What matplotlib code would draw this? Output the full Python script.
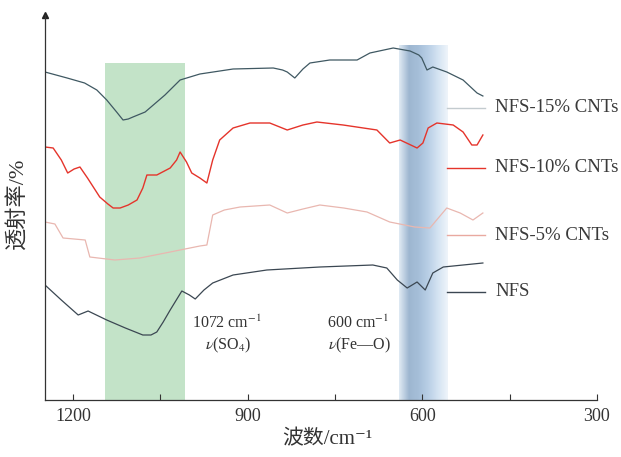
import matplotlib.pyplot as plt
import numpy as np
from matplotlib.colors import LinearSegmentedColormap

plt.rcParams['font.family'] = ['Liberation Serif', 'Noto Sans CJK SC', 'DejaVu Serif']
plt.rcParams['mathtext.fontset'] = 'stix'

# wavenumber (cm-1) and offset transmittance (a.u.)
wn_15 = [1248, 1210, 1180, 1159, 1142, 1125, 1114, 1105, 1097, 1076, 1060, 1042, 1016, 982,
         925, 856, 840, 832, 819, 805, 793, 759, 712, 690, 650, 621, 606, 601, 592, 582,
         558, 530, 506, 496]
t_15 = [328, 322, 317, 310, 300, 288, 280, 281, 283, 288, 296, 305, 320, 326,
        331, 332, 330, 328, 322, 331, 337, 340, 340, 347, 352, 349, 345, 342, 330, 333,
        328, 320, 307, 304]

wn_10 = [1248, 1234, 1220, 1209, 1198, 1188, 1175, 1154, 1140, 1131, 1119, 1105, 1090,
         1080, 1073, 1056, 1033, 1022, 1016, 1005, 996, 982, 970, 960, 948, 925, 896, 862,
         832, 805, 781, 736, 678, 656, 638, 609, 599, 590, 575, 547, 530, 515, 506, 496]
t_10 = [253, 252, 240, 227, 231, 233, 222, 203, 196, 192, 192, 195, 200,
        212, 225, 225, 232, 240, 248, 238, 227, 222, 217, 240, 260, 272, 277, 277,
        270, 275, 278, 275, 270, 257, 260, 252, 257, 272, 277, 275, 268, 255, 255, 265]

wn_5 = [1248, 1231, 1217, 1179, 1171, 1128, 1085, 1033, 982, 970, 960, 940, 913, 862,
        832, 805, 776, 735, 695, 656, 613, 587, 558, 535, 513, 496]
t_5 = [178, 176, 162, 160, 143, 140, 142, 148, 154, 155, 185, 190, 193, 195,
       187, 191, 195, 192, 188, 178, 173, 172, 192, 187, 180, 187]

wn_0 = [1248, 1220, 1191, 1174, 1142, 1110, 1080, 1066, 1056, 1045, 1033, 1013, 1000, 990,
        975, 960, 925, 867, 776, 685, 661, 643, 626, 609, 595, 582, 564, 530, 496]
t_0 = [115, 100, 85, 89, 80, 72, 65, 65, 68, 78, 90, 109, 105, 101,
       110, 117, 125, 130, 133, 135, 132, 120, 112, 118, 110, 127, 133, 135, 137]

labels = ['NFS-15% CNTs', 'NFS-10% CNTs', 'NFS-5% CNTs', 'NFS']
label_y = [292, 232, 165, 108]

fig = plt.figure(figsize=(6.21, 4.57), dpi=100)
ax = fig.add_axes([45 / 621, 57 / 457, 552 / 621, 385 / 457])
ax.set_xlim(1248, 300)
ax.set_ylim(0, 385)

# highlighted bands
ax.axvspan(1008, 1145, ymax=337 / 385, color='#b9dfbf', alpha=0.85, lw=0, zorder=0)
grad = np.linspace(0, 1, 64).reshape(1, -1)
cm_blue = LinearSegmentedColormap.from_list(
    'b', ['#dfe9f3', '#9db6d0', '#a6bfd9', '#b9cfe6', '#d4e3f2', '#eef4fa'])
ax.imshow(grad, cmap=cm_blue, aspect='auto', extent=(640, 556, 0, 355), zorder=0.5)

ax.plot(wn_15, t_15, color='#3f5862', lw=0.9, zorder=2)
ax.plot(wn_10, t_10, color='#e5342b', lw=1.0, zorder=2)
ax.plot(wn_5, t_5, color='#e9b7b0', lw=0.9, zorder=2)
ax.plot(wn_0, t_0, color='#3b4752', lw=0.9, zorder=2)

leg_colors = ['#c3cbcf', '#e5342b', '#e9a9a0', '#3b4752']
for lab, yy, c in zip(labels, label_y, leg_colors):
    ax.plot([558, 492], [yy, yy], color=c, lw=1.0, clip_on=False)
    ax.text(475, yy, lab, fontsize=13.5, va='center', ha='left', color='#3a3a3a')

ax.text(996, 77, '1072 cm$^{-1}$', fontsize=11.5, ha='left', va='center', color='#333333')
ax.text(934, 55, '$\\nu$(SO$_4$)', fontsize=11.5, ha='center', va='center', color='#333333')
ax.text(764, 77, '600 cm$^{-1}$', fontsize=11.5, ha='left', va='center', color='#333333')
ax.text(707, 55, '$\\nu$(Fe\u2014O)', fontsize=11.5, ha='center', va='center', color='#333333')

for s in ['top', 'right']:
    ax.spines[s].set_visible(False)
for s in ['left', 'bottom']:
    ax.spines[s].set_color('#333333')
    ax.spines[s].set_linewidth(0.9)
ax.plot(0, 1, '^', transform=ax.transAxes, color='#222222', ms=5, clip_on=False)

ax.set_yticks([])
ax.set_xticks([1200, 900, 600, 300])
ax.set_xticks([1050, 750, 450], minor=True)
ax.tick_params(axis='x', which='both', direction='in', length=4, width=0.8,
               labelsize=13, colors='#333333', pad=6)
ax.tick_params(axis='x', which='minor', length=4)

fig.text(327 / 621, 1 - 440 / 457, '波数/cm\u207b\u00b9', fontsize=15, ha='center',
         va='center', color='#333333')
fig.text(18 / 621, 1 - 203 / 457, '透射率/%', fontsize=16, rotation=90, ha='center',
         va='center', color='#333333')

fig.savefig('out.png', dpi=100)
